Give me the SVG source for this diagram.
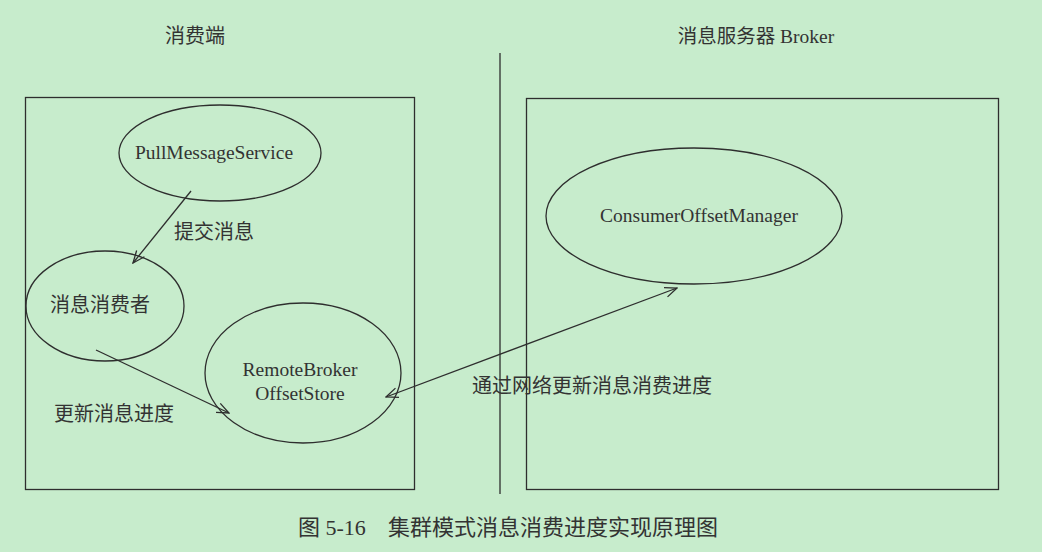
<svg xmlns="http://www.w3.org/2000/svg" width="1042" height="552" viewBox="0 0 1042 552">
<style>
.bg{fill:#c7eccc}
.ln{fill:none;stroke:#2e2e2e;stroke-width:1.3}
.t{font-family:"Liberation Serif","Noto Sans CJK SC",serif;font-size:19.5px;fill:#333;text-anchor:middle}
.c{font-size:20px}
.cap{font-family:"Liberation Serif","Noto Sans CJK SC",serif;font-size:22px;fill:#333}
</style>
<defs>
<marker id="arr" viewBox="0 0 14 12" refX="13" refY="6" markerWidth="14" markerHeight="12" markerUnits="userSpaceOnUse" orient="auto-start-reverse">
<path d="M1,1 L13,6 L1,11" fill="none" stroke="#2e2e2e" stroke-width="1.3"/>
</marker>
</defs>
<rect class="bg" x="0" y="0" width="1042" height="552"/>
<text class="t c" x="195" y="43">消费端</text>
<text class="t" x="756" y="43">消息服务器 Broker</text>
<line class="ln" x1="500" y1="53" x2="500" y2="494"/>
<g id="consumer-box"><rect class="ln" x="25.5" y="97.5" width="389" height="392"/></g>
<g id="broker-box"><rect class="ln" x="526.5" y="98.5" width="472" height="391"/></g>
<g id="pull"><ellipse class="ln" cx="220" cy="153" rx="101" ry="48"/><text class="t" x="214" y="159">PullMessageService</text></g>
<g id="consumer"><ellipse class="ln" cx="105" cy="306" rx="79" ry="55"/><text class="t c" x="100" y="312">消息消费者</text></g>
<g id="remote"><ellipse class="ln" cx="303" cy="373" rx="98" ry="70"/><text class="t" x="300" y="376">RemoteBroker</text><text class="t" x="300" y="400">OffsetStore</text></g>
<g id="manager"><ellipse class="ln" cx="694" cy="216" rx="148" ry="68"/><text class="t" x="699" y="222">ConsumerOffsetManager</text></g>
<g id="connectors">
<line class="ln" x1="191" y1="191" x2="133" y2="263" marker-end="url(#arr)"/>
<line class="ln" x1="96" y1="350" x2="229" y2="413" marker-end="url(#arr)"/>
<line class="ln" x1="386" y1="397" x2="677" y2="288" marker-start="url(#arr)" marker-end="url(#arr)"/>
</g>
<text class="t c" x="214" y="239">提交消息</text>
<text class="t c" x="114" y="421">更新消息进度</text>
<text class="t c" x="592" y="393">通过网络更新消息消费进度</text>
<text class="cap" x="298" y="535">图 5-16</text>
<text class="cap" x="388" y="535">集群模式消息消费进度实现原理图</text>
</svg>
